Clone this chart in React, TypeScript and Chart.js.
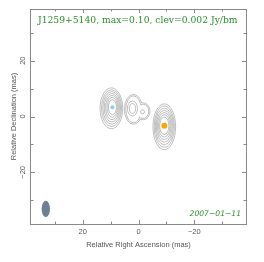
import React, { useEffect, useRef } from "react";
import { Chart, registerables } from "chart.js";

Chart.register(...registerables);

// ---- data (mas) ----
const AXIS_MIN = -38.5;
const AXIS_MAX = 38.5;
const TICK_STEP = 10;
const LABEL_STEP = 20;

const TITLE_TEXT = "J1259+5140, max=0.10, clev=0.002 Jy/bm";
const DATE_TEXT = "2007\u221201\u221211";
const X_TITLE = "Relative Right Ascension (mas)";
const Y_TITLE = "Relative Declination (mas)";

// Component A (core, east)
const compA_cx = [9.71, 9.65, 9.6, 9.55, 9.48, 9.42, 9.35];
const compA_cy = [2.93, 3.0, 3.07, 3.14, 3.21, 3.29, 3.36];
const compA_rx = [4.06, 3.6, 3.17, 2.73, 2.3, 1.87, 1.44];
const compA_ry = [7.32, 6.61, 5.86, 5.11, 4.36, 3.57, 2.68];

// Component C (west)
const compC_cx = [-9.24, -9.24, -9.24, -9.24, -9.24, -9.24, -9.24];
const compC_cy = [-3.68, -3.62, -3.56, -3.5, -3.44, -3.38, -3.32];
const compC_rx = [4.06, 3.63, 3.24, 2.84, 2.45, 2.05, 1.65];
const compC_ry = [8.21, 7.39, 6.57, 5.71, 4.86, 4.0, 3.14];

// Component B (middle, two merged lobes)
const compB_lobeL_c = [1.8, 2.57];
const compB_lobeR_c = [-1.62, 1.86];
const compB_lobeL_rx = [3.24, 2.75];
const compB_lobeL_ry = [5.36, 4.85];
const compB_lobeR_rx = [2.52, 2.05];
const compB_lobeR_ry = [3.04, 2.55];
const compB_inner_cx = [2.16, 2.16, -1.44];
const compB_inner_cy = [2.86, 2.86, 1.68];
const compB_inner_rx = [1.8, 1.13, 0.72];
const compB_inner_ry = [2.68, 1.79, 0.71];

// Peaks
const peak_x = [9.35, -9.24];
const peak_y = [3.29, -3.32];
const peak_color = ["#87cefa", "#ffa500"];
const peak_radius = [2, 3];

// Beam
const beam_cx = 33.2;
const beam_cy = -33.1;
const beam_rx = 1.5;
const beam_ry = 2.93;

const CONTOUR_COLOR = "#a2a2a2";
const AXIS_COLOR = "#8a8a8a";
const LABEL_COLOR = "#555555";
const GREEN = "#2a8f2a";

function ellipsePath(ctx: CanvasRenderingContext2D, xs: any, ys: any, cx: number, cy: number, rx: number, ry: number) {
  const px = xs.getPixelForValue(cx);
  const py = ys.getPixelForValue(cy);
  const prx = Math.abs(xs.getPixelForValue(cx + rx) - px);
  const pry = Math.abs(ys.getPixelForValue(cy + ry) - py);
  ctx.ellipse(px, py, prx, pry, 0, 0, Math.PI * 2);
}

const mapPlugin = {
  id: "vlbimap",
  beforeDatasetsDraw(chart: any) {
    const { ctx, chartArea: a, scales } = chart;
    const xs = scales.x;
    const ys = scales.y;
    ctx.save();
    ctx.beginPath();
    ctx.rect(a.left, a.top, a.right - a.left, a.bottom - a.top);
    ctx.clip();
    ctx.strokeStyle = CONTOUR_COLOR;
    ctx.lineWidth = 0.7;
    const drawSet = (cx: number[], cy: number[], rx: number[], ry: number[]) => {
      for (let i = 0; i < rx.length; i++) {
        ctx.beginPath();
        ellipsePath(ctx, xs, ys, cx[i], cy[i], rx[i], ry[i]);
        ctx.stroke();
      }
    };
    drawSet(compA_cx, compA_cy, compA_rx, compA_ry);
    drawSet(compC_cx, compC_cy, compC_rx, compC_ry);
    drawSet(compB_inner_cx, compB_inner_cy, compB_inner_rx, compB_inner_ry);
    // merged lobes: union outline
    const W = chart.width, H = chart.height;
    for (let k = 0; k < compB_lobeL_rx.length; k++) {
      const L = [compB_lobeL_c[0], compB_lobeL_c[1], compB_lobeL_rx[k], compB_lobeL_ry[k]];
      const R = [compB_lobeR_c[0], compB_lobeR_c[1], compB_lobeR_rx[k], compB_lobeR_ry[k]];
      const pairs = [[L, R], [R, L]];
      for (const [A, B] of pairs) {
        ctx.save();
        ctx.beginPath();
        ctx.rect(0, 0, W, H);
        ellipsePath(ctx, xs, ys, B[0], B[1], B[2], B[3]);
        ctx.clip("evenodd");
        ctx.beginPath();
        ellipsePath(ctx, xs, ys, A[0], A[1], A[2], A[3]);
        ctx.stroke();
        ctx.restore();
      }
    }
    // beam
    ctx.fillStyle = "#6f8094";
    ctx.beginPath();
    ellipsePath(ctx, xs, ys, beam_cx, beam_cy, beam_rx, beam_ry);
    ctx.fill();
    ctx.restore();
  },
  afterDraw(chart: any) {
    const { ctx, chartArea: a, scales } = chart;
    ctx.save();
    // frame
    ctx.strokeStyle = AXIS_COLOR;
    ctx.lineWidth = 1;
    ctx.strokeRect(a.left - 0.5, a.top + 0.5, a.right - a.left + 1, a.bottom - a.top);
    // inward ticks on all sides
    const tickLen = (v: number) => (Math.abs(v % LABEL_STEP) < 1e-6 ? 4 : 2.5);
    ctx.beginPath();
    for (const t of scales.x.ticks) {
      const p = Math.round(scales.x.getPixelForValue(t.value)) + 0.5;
      const l = tickLen(t.value);
      ctx.moveTo(p, a.bottom);
      ctx.lineTo(p, a.bottom - l);
      ctx.moveTo(p, a.top);
      ctx.lineTo(p, a.top + l);
    }
    for (const t of scales.y.ticks) {
      const p = Math.round(scales.y.getPixelForValue(t.value)) + 0.5;
      const l = tickLen(t.value);
      ctx.moveTo(a.left, p);
      ctx.lineTo(a.left + l, p);
      ctx.moveTo(a.right, p);
      ctx.lineTo(a.right - l, p);
    }
    ctx.stroke();
    // texts
    ctx.fillStyle = GREEN;
    ctx.font = "9.2px 'DejaVu Serif'";
    ctx.textAlign = "left";
    ctx.textBaseline = "middle";
    ctx.fillText(TITLE_TEXT, a.left + 7, a.top + 11.7);
    ctx.font = "italic 7.6px 'DejaVu Sans'";
    ctx.textAlign = "right";
    ctx.fillText(DATE_TEXT, a.right - 5, a.bottom - 9.7);
    ctx.restore();
  },
};

const tickLabel = (v: any) => {
  const n = Number(v);
  if (Math.abs(n % LABEL_STEP) > 1e-6) return "";
  return n < 0 ? "\u2212" + Math.abs(n) : String(n);
};

export default function App() {
  const ref = useRef<HTMLCanvasElement | null>(null);
  useEffect(() => {
    if (!ref.current) return;
    const font = { family: "'Liberation Sans', Arial, sans-serif", size: 7.5 };
    const chart = new Chart(ref.current, {
      type: "scatter",
      data: {
        datasets: peak_x.map((x, i) => ({
          data: [{ x, y: peak_y[i] }],
          backgroundColor: peak_color[i],
          borderWidth: 0,
          pointRadius: peak_radius[i],
        })),
      },
      options: {
        animation: false,
        responsive: false,
        devicePixelRatio: 1,
        layout: { padding: { left: 0, right: 18, top: 9, bottom: 0 } },
        plugins: { legend: { display: false }, tooltip: { enabled: false } },
        scales: {
          x: {
            type: "linear",
            min: AXIS_MIN,
            max: AXIS_MAX,
            reverse: true,
            grid: { display: false, drawTicks: false },
            border: { display: false },
            ticks: {
              stepSize: TICK_STEP,
              includeBounds: false,
              autoSkip: false,
              maxRotation: 0,
              padding: 3,
              color: LABEL_COLOR,
              font,
              callback: tickLabel,
            },
            title: { display: true, text: X_TITLE, color: LABEL_COLOR, font, padding: { top: 0, bottom: 12.5 } },
            afterFit: (s: any) => { s.height = 38; },
          },
          y: {
            type: "linear",
            min: AXIS_MIN,
            max: AXIS_MAX,
            grid: { display: false, drawTicks: false },
            border: { display: false },
            ticks: {
              stepSize: TICK_STEP,
              includeBounds: false,
              autoSkip: false,
              minRotation: 90,
              maxRotation: 90,
              crossAlign: "center",
              padding: 1.25,
              color: LABEL_COLOR,
              font,
              callback: tickLabel,
            },
            title: { display: true, text: Y_TITLE, color: LABEL_COLOR, font, padding: { top: 9.5, bottom: 0 } },
            afterFit: (s: any) => { s.width = 31; },
          },
        },
      },
      plugins: [mapPlugin],
    } as any);
    return () => chart.destroy();
  }, []);
  return (
    <div style={{ position: "fixed", left: 0, top: 0, width: 264, height: 262, background: "#fff" }}>
      <canvas ref={ref} width={264} height={262} style={{ width: 264, height: 262, display: "block" }} />
    </div>
  );
}
